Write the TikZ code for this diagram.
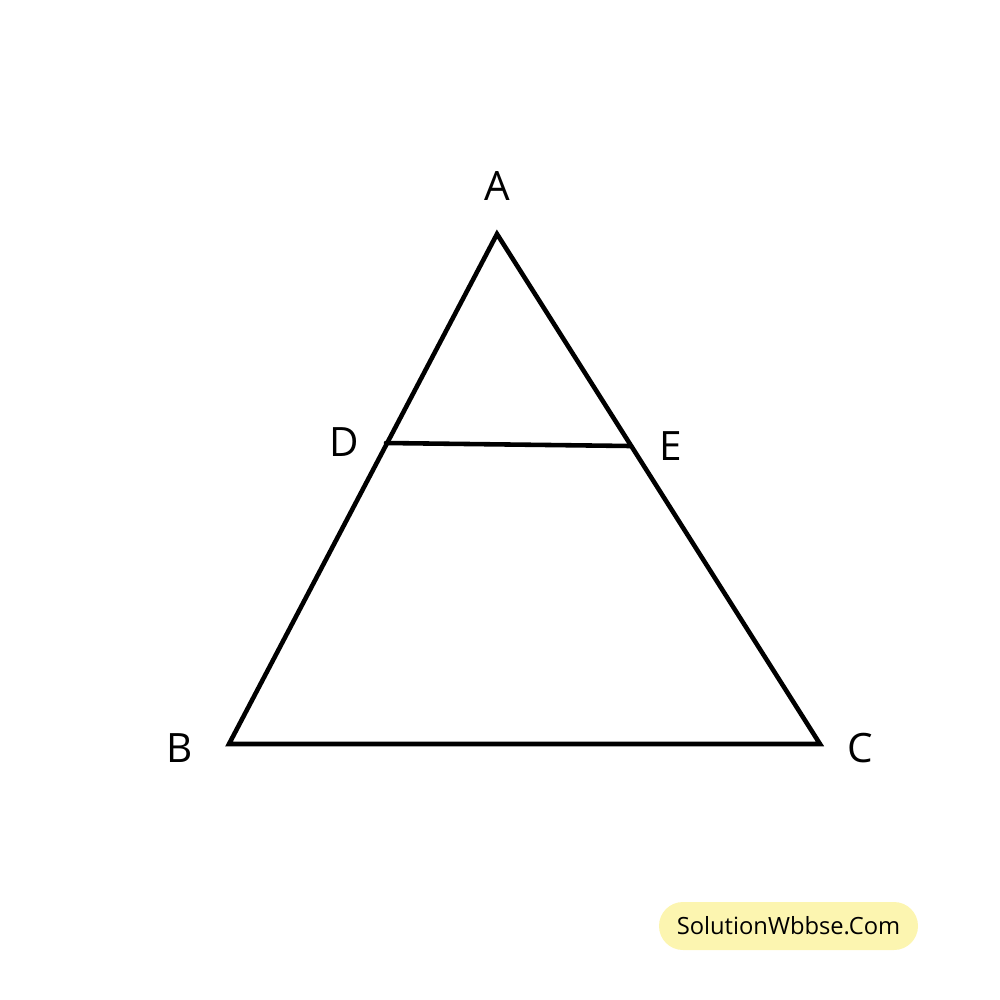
\documentclass[tikz,border=0pt]{standalone}
\usepackage{fontspec}
\setmainfont{Open Sans}
\definecolor{wmyellow}{HTML}{FCF5B0}
\begin{document}
\begin{tikzpicture}[x=0.01cm,y=-0.01cm,
  edge/.style={line width=1.3pt,line cap=round,line join=miter},
  lbl/.style={font=\fontsize{11.5}{13}\selectfont,inner sep=0pt},
  wm/.style={fill=wmyellow,rounded corners=6.8pt,minimum width=259*0.01cm,minimum height=48*0.01cm,font=\fontsize{6.75}{8}\selectfont,inner sep=0pt}]
\useasboundingbox (0,0) rectangle (1000,1000);
\coordinate (A) at (497,234);
\coordinate (B) at (229,744);
\coordinate (C) at (820,744);
\coordinate (D) at (386,443);
\coordinate (E) at (630,446);
\draw[edge] (A) -- (B) -- (C) -- cycle;
\draw[edge] (D) -- (E);
\node[lbl] (lA) at (497,186) {A};
\node[lbl] (lB) at (180,748) {B};
\node[lbl] (lC) at (860,748) {C};
\node[lbl] (lD) at (344,442) {D};
\node[lbl] (lE) at (671,446) {E};
\node[wm] (w) at (788.5,926) {SolutionWbbse.Com};
\end{tikzpicture}
\end{document}
